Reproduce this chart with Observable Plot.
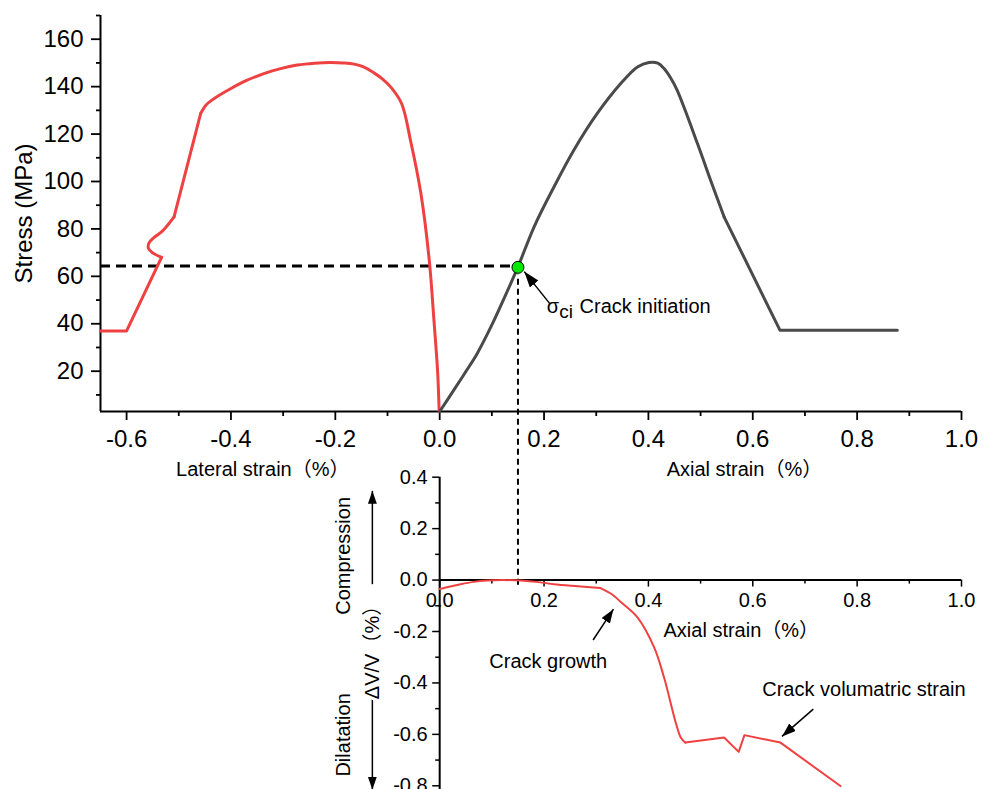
<!DOCTYPE html>
<html><head><meta charset="utf-8">
<script src="https://cdn.jsdelivr.net/npm/d3@7"></script>
<script src="https://cdn.jsdelivr.net/npm/@observablehq/plot@0.6"></script>
<style>
html,body{margin:0;padding:0;background:#fff;}
#chart{position:relative;width:990px;height:789px;overflow:hidden;background:#fff;}
#chart svg{position:absolute;left:0;top:0;}
</style></head><body><div id="chart"></div>
<script>
// ---------- data ----------
const lateralStrain = [-0.65,-0.600,-0.533,-0.550,-0.558,-0.557,-0.547,-0.531,-0.509,-0.458,-0.448,-0.432,-0.400,-0.370,-0.337,-0.305,-0.273,-0.240,-0.209,-0.185,-0.164,-0.145,-0.126,-0.110,-0.094,-0.073,-0.056,-0.036,-0.020,-0.011,-0.004,-0.001];
const lateralStress = [37,37,68,69.9,71.7,74.1,76.4,79.2,85.1,128.7,132.2,135.0,139.2,142.6,145.5,147.6,149.1,149.9,150.2,150.0,149.5,148.2,145.8,143.3,139.9,132.9,117.4,94.9,66.8,41.5,20,3];
const axialStrain = [0,0.027,0.05,0.072,0.10,0.125,0.15,0.181,0.219,0.257,0.302,0.347,0.379,0.401,0.418,0.430,0.443,0.455,0.494,0.519,0.545,0.652,0.877];
const axialStress = [3,12,19.8,27.5,39.5,51.5,64.0,80.9,97.7,113.2,128.7,141.3,148.3,150.2,149.9,147.6,143.5,138.5,116.0,100.6,85.1,37.3,37.3];
const volAxialStrain = [0,0.02,0.040,0.065,0.091,0.12,0.155,0.19,0.219,0.265,0.308,0.33,0.347,0.379,0.411,0.430,0.462,0.471,0.545,0.573,0.584,0.653,0.768];
const volStrain = [-0.035,-0.025,-0.016,-0.007,-0.002,0,-0.002,-0.008,-0.016,-0.024,-0.031,-0.055,-0.085,-0.145,-0.262,-0.379,-0.612,-0.632,-0.612,-0.668,-0.603,-0.632,-0.801];

const stressTicks = [20,40,60,80,100,120,140,160];
const stressMinorTicks = [10,30,50,70,90,110,130,150,170];
const strainTicks = [-0.6,-0.4,-0.2,0.0,0.2,0.4,0.6,0.8,1.0];
const strainMinorTicks = [-0.5,-0.3,-0.1,0.1,0.3,0.5,0.7,0.9];
const axialTicks = [0.0,0.2,0.4,0.6,0.8,1.0];
const axialMinorTicks = [0.1,0.3,0.5,0.7,0.9];
const volTicks = [-0.8,-0.6,-0.4,-0.2,0.0,0.2,0.4];
const volMinorTicks = [-0.7,-0.5,-0.3,-0.1,0.1,0.3];

const crackInitStrain = [0.15];
const crackInitStress = [63.8];
const crackInitLevel = [64.4];

const topLabels = ["Lateral strain（%）","Axial strain（%）"];
const topLabelX = [-0.339, 0.584];

// ---------- layout ----------
const W = 990, H = 789;
const font = "'Liberation Sans', Arial, 'Noto Sans CJK SC', sans-serif";
const topM = {left:100, right:29, top:15, bottom:H-411};
const xDomTop = [-0.65, 1.0], yDomTop = [3, 170];
const xTopScale = Plot.scale({x:{domain:xDomTop, range:[topM.left, W-topM.right]}});
const yTopScale = Plot.scale({y:{domain:yDomTop, range:[H-topM.bottom, topM.top]}});
const botM = {left: xTopScale.apply(0), right:29, top:476.7, bottom:H-785.3};
const yDomBot = [-0.8, 0.4];
const yBotScale = Plot.scale({y:{domain:yDomBot, range:[H-botM.bottom, botM.top]}});

function filledArrow(len, half) {
  return (color, context) => {
    const m = d3.create("svg:marker")
      .attr("viewBox", `${-len} ${-half} ${len} ${2*half}`)
      .attr("markerWidth", len).attr("markerHeight", 2*half)
      .attr("markerUnits", "userSpaceOnUse")
      .attr("refX", 0).attr("refY", 0)
      .attr("orient", "auto")
      .attr("fill", color).attr("stroke", "none");
    m.append("path").attr("d", `M${-len},${-half}L0,0L${-len},${half}Z`);
    return m.node();
  };
}
function arrowLink(x1, y1, x2, y2, len, half) {
  const opts = {x1, y1, x2, y2, stroke:"black", strokeWidth:1.5};
  try { return Plot.link([0], {...opts, markerEnd: filledArrow(len, half)}); }
  catch (e) { return Plot.link([0], {...opts, markerEnd: "arrow"}); }
}
// a piece of a series (indices i0..i1) drawn with a given curve
function seg(xs, ys, i0, i1, curve, stroke, strokeWidth) {
  return Plot.line(d3.range(i0, i1 + 1), {x: i => xs[i], y: i => ys[i], curve, stroke, strokeWidth, strokeLinejoin: "round"});
}
const fmt1 = d => d.toFixed(1);
const RED = "#ef4141", GREY = "#4a4a4a";

// ---------- top chart ----------
const nL = lateralStrain.length - 1, nA = axialStrain.length - 1;
const topChart = Plot.plot({
  width: W, height: H,
  marginLeft: topM.left, marginRight: topM.right, marginTop: topM.top, marginBottom: topM.bottom,
  style: {fontFamily: font, color: "black", background: "white", overflow: "visible"},
  x: {domain: xDomTop},
  y: {domain: yDomTop},
  marks: [
    Plot.ruleY([yDomTop[0]], {stroke:"black", strokeWidth:2}),
    Plot.ruleX([xDomTop[0]], {stroke:"black", strokeWidth:2}),
    Plot.axisX({ticks: strainTicks, tickSize: 9, tickPadding: 9, fontSize: 24, tickFormat: fmt1, label: null, strokeWidth: 1.8}),
    Plot.axisX({ticks: strainMinorTicks, tickSize: 5, tickFormat: () => "", label: null, strokeWidth: 1.8}),
    Plot.axisY({ticks: stressTicks, tickSize: 9, tickPadding: 8, fontSize: 24, tickFormat: d => String(d), label: null, strokeWidth: 1.8}),
    Plot.axisY({ticks: stressMinorTicks, tickSize: 4, tickFormat: () => "", label: null, strokeWidth: 1.8}),
    Plot.text(["Stress (MPa)"], {frameAnchor: "left", dx: -76, rotate: -90, fontSize: 24, textAnchor: "middle", lineAnchor: "middle"}),
    Plot.text(topLabels, {x: topLabelX, frameAnchor: "bottom", dy: 64, lineAnchor: "bottom", textAnchor: "middle", fontSize: 20}),
    Plot.ruleY(crackInitLevel, {x1: xDomTop[0], x2: crackInitStrain[0], stroke: "black", strokeWidth: 3, strokeDasharray: "10,6"}),
    seg(lateralStrain, lateralStress, 0, 2, "linear", RED, 3),
    seg(lateralStrain, lateralStress, 2, 8, "catmull-rom", RED, 3),
    seg(lateralStrain, lateralStress, 8, 9, "linear", RED, 3),
    seg(lateralStrain, lateralStress, 9, nL, "catmull-rom", RED, 3),
    seg(axialStrain, axialStress, 0, 20, "catmull-rom", GREY, 3),
    seg(axialStrain, axialStress, 20, nA, "linear", GREY, 3),
    Plot.dot(crackInitStrain, {x: crackInitStrain, y: crackInitStress, r: 6, fill: "#00e800", stroke: "black", strokeWidth: 1}),
    arrowLink([0.211], [48.5], [0.162], [62.0], 16, 5.5),
    Plot.text(["σ"], {x: [0.205], y: [44.6], textAnchor: "start", lineAnchor: "bottom", fontSize: 20}),
    Plot.text(["ci"], {x: [0.229], y: [42.6], textAnchor: "start", lineAnchor: "bottom", fontSize: 19}),
    Plot.text(["Crack initiation"], {x: [0.268], y: [44.6], textAnchor: "start", lineAnchor: "bottom", fontSize: 20})
  ]
});

// ---------- bottom chart ----------
const nV = volAxialStrain.length - 1;
const axisShift = yBotScale.apply(0) - yBotScale.apply(yDomBot[0]);
const connectorTop = yBotScale.invert(yTopScale.apply(crackInitStress[0]));
const bottomChart = Plot.plot({
  width: W, height: H,
  marginLeft: botM.left, marginRight: botM.right, marginTop: botM.top, marginBottom: botM.bottom,
  style: {fontFamily: font, color: "black", background: "transparent", overflow: "visible", pointerEvents: "none"},
  x: {domain: [0, 1]},
  y: {domain: yDomBot},
  marks: [
    Plot.ruleX([0], {y1: 0.4, y2: -0.82, stroke: "black", strokeWidth: 2}),
    Plot.ruleY([0], {x1: 0, x2: 1, stroke: "black", strokeWidth: 2}),
    Plot.axisY({ticks: volTicks, tickSize: 7, tickPadding: 5, fontSize: 20, tickFormat: fmt1, label: null, strokeWidth: 1.5}),
    Plot.axisY({ticks: volMinorTicks, tickSize: 4, tickFormat: () => "", label: null, strokeWidth: 1.5}),
    Plot.axisX({ticks: axialTicks, dy: axisShift, tickSize: 7, tickPadding: 6, fontSize: 20, tickFormat: fmt1, label: null, strokeWidth: 1.5}),
    Plot.axisX({ticks: axialMinorTicks, dy: axisShift, tickSize: 4, tickFormat: () => "", label: null, strokeWidth: 1.5}),
    Plot.text(["Axial strain（%）"], {x: [0.578], y: [-0.223], textAnchor: "middle", lineAnchor: "bottom", fontSize: 20}),
    Plot.ruleX(crackInitStrain, {y1: -0.02, y2: connectorTop - 0.03, stroke: "black", strokeWidth: 2, strokeDasharray: "6,4"}),
    seg(volAxialStrain, volStrain, 0, 10, "catmull-rom", RED, 2),
    seg(volAxialStrain, volStrain, 10, 17, "catmull-rom", RED, 2),
    seg(volAxialStrain, volStrain, 17, nV, "linear", RED, 2),
    arrowLink([0.294], [-0.233], [0.333], [-0.113], 14, 5),
    Plot.text(["Crack growth"], {x: [0.208], y: [-0.34], textAnchor: "middle", lineAnchor: "bottom", fontSize: 20}),
    arrowLink([0.716], [-0.502], [0.656], [-0.608], 14, 5),
    Plot.text(["Crack volumatric strain"], {x: [0.813], y: [-0.45], textAnchor: "middle", lineAnchor: "bottom", fontSize: 20}),
    arrowLink([-0.129], [-0.016], [-0.129], [0.347], 13, 4.5),
    arrowLink([-0.129], [-0.43], [-0.129], [-0.815], 13, 4.5),
    Plot.text(["Compression"], {x: [-0.184], y: [0.094], rotate: -90, textAnchor: "middle", lineAnchor: "middle", fontSize: 20}),
    Plot.text(["Dilatation"], {x: [-0.184], y: [-0.602], rotate: -90, textAnchor: "middle", lineAnchor: "middle", fontSize: 20}),
    Plot.text(["ΔV/V（%）"], {x: [-0.128], y: [-0.262], rotate: -90, textAnchor: "middle", lineAnchor: "middle", fontSize: 20, fill: "black", stroke: "white", strokeWidth: 6, paintOrder: "stroke"})
  ]
});

const el = document.getElementById("chart");
el.appendChild(topChart);
el.appendChild(bottomChart);
</script></body></html>
